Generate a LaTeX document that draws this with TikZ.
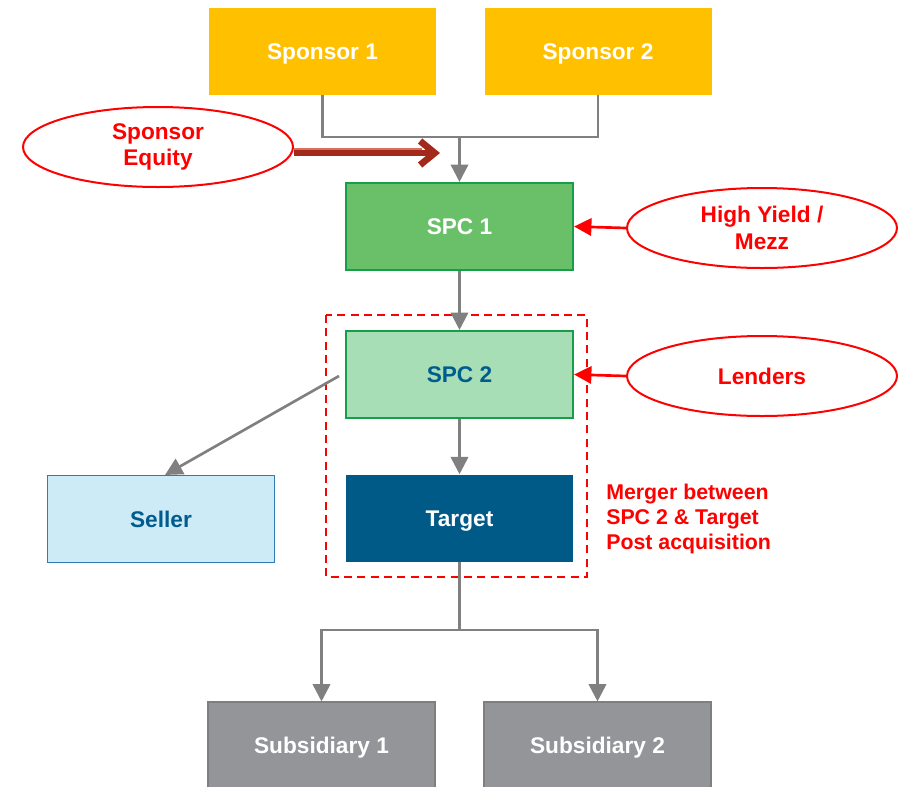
\documentclass[tikz,border=0pt]{standalone}
\usepackage{fontspec}
\setmainfont{Liberation Sans}
\usetikzlibrary{arrows.meta,shapes.geometric}
\definecolor{gold}{HTML}{FFC000}
\definecolor{greenmid}{HTML}{6ABF69}
\definecolor{greenlight}{HTML}{A7DEB5}
\definecolor{greenedge}{HTML}{169E4B}
\definecolor{navy}{HTML}{005A87}
\definecolor{navytext}{HTML}{005C8E}
\definecolor{skyfill}{HTML}{CDEBF6}
\definecolor{skyedge}{HTML}{2E7DB5}
\definecolor{subgray}{HTML}{939598}
\definecolor{subedge}{HTML}{7F7F7F}
\definecolor{linkgray}{HTML}{808080}
\definecolor{equityred}{HTML}{A32A1A}
\definecolor{equitylight}{HTML}{D9705F}
\newlength{\pxu}
\setlength{\pxu}{0.75pt}
\tikzset{
  box/.style={rectangle, minimum width=227\pxu, minimum height=87\pxu, inner sep=0pt,
    text height=12.2pt, text depth=0pt,
    font=\fontsize{17}{19}\selectfont\bfseries, text=white},
  bubble/.style={ellipse, draw=red, line width=1.5pt, fill=white, minimum width=270\pxu,
    minimum height=80\pxu, inner sep=0pt, align=center, text=red,
    font=\fontsize{17}{20}\selectfont\bfseries},
  link/.style={draw=linkgray, line width=2pt, -{Triangle[length=13pt,width=13pt]}},
  plainlink/.style={draw=linkgray, line width=2pt},
  redlink/.style={draw=red, line width=2pt, -{Triangle[length=13pt,width=13pt]}},
}
\begin{document}
\begin{tikzpicture}[x=0.75pt,y=-0.75pt]
\useasboundingbox (0,0) rectangle (903,786);

% boxes
\node[box, fill=gold] (sp1) at (322.5,51) {Sponsor 1};
\node[box, fill=gold] (sp2) at (598,51) {Sponsor 2};
\node[box, fill=greenmid, draw=greenedge, line width=1.6pt] (spc1) at (459.5,226.5) {SPC 1};
\node[box, fill=greenlight, draw=greenedge, line width=1.6pt, text=navytext] (spc2) at (459.5,374.5) {SPC 2};
\node[box, fill=navy] (tgt) at (459.5,518) {Target};
\node[box, fill=skyfill, draw=skyedge, line width=0.8pt, text=navytext] (seller) at (161,519) {Seller};
\node[box, fill=subgray, draw=subedge, line width=0.8pt, minimum height=86\pxu] (sub1) at (321.5,745) {Subsidiary 1};
\node[box, fill=subgray, draw=subedge, line width=0.8pt, minimum height=86\pxu] (sub2) at (597.5,745) {Subsidiary 2};

% merger boundary
\draw[red, line width=1.5pt, dash pattern=on 6pt off 4pt] (326,315) rectangle (587,577);
\node[anchor=north west, align=left, text=red, inner sep=0pt,
  font=\fontsize{16}{18.8}\selectfont\bfseries] (merge) at (606,484)
  {Merger between\\SPC 2 \& Target\\Post acquisition};

% sponsors into SPC 1
\coordinate (join) at (459.5,137);
\draw[plainlink] (sp1.south) |- (join) -| (sp2.south);
\draw[link] (join) -- (spc1.north);
\draw[link] (spc1.south) -- (spc2.north);
\draw[link] (spc2.south) -- (tgt.north);

% target to subsidiaries
\coordinate (fork) at (459.5,630);
\draw[plainlink] (tgt.south) -- (fork);
\draw[link] (fork) -| (sub1.north);
\draw[link] (fork) -| (sub2.north);

% proceeds to seller
\coordinate (sellfrom) at (339,376);
\draw[link] (sellfrom) -- (seller.north -| 165,476);

% financing bubbles
\node[bubble] (eq) at (158,147) {Sponsor\\Equity};
\node[bubble] (hy) at (762,228) {High Yield /\\Mezz};
\node[bubble] (ld) at (762,376) {Lenders};
\draw[redlink] (hy.west) -- (spc1.east);
\draw[redlink] (ld.west) -- (spc2.east);

% sponsor equity arrow: dark shaft with a light upper stripe
\coordinate (eqtip) at (440,153);
\draw[equityred, line width=5pt, -{Straight Barb[length=11pt,width=18pt]}] (eq.east) ++(0,6) -- (eqtip);
\draw[equitylight, line width=1.5pt] (eq.east) ++(0,2) -- (422,149);
\end{tikzpicture}
\end{document}
